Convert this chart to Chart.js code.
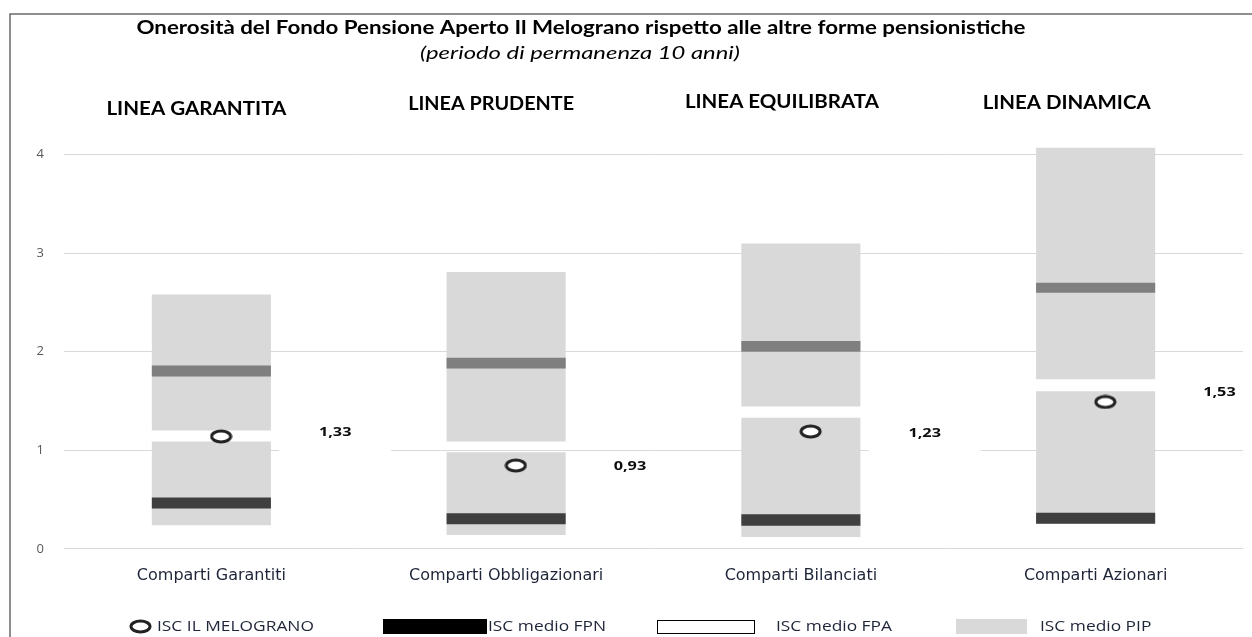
<!DOCTYPE html>
<html>
<head>
<meta charset="utf-8">
<script src="https://cdn.jsdelivr.net/npm/chart.js@4.4.1/dist/chart.umd.min.js"></script>
<style>
html,body{margin:0;padding:0;background:#fff;}
#wrap{width:1252px;height:637px;position:relative;}
</style>
</head>
<body>
<div id="wrap"><canvas id="c" width="1252" height="637"></canvas></div>
<script>
// ---------- DATA ----------
const chartTitle = 'Onerosità del Fondo Pensione Aperto Il Melograno rispetto alle altre forme pensionistiche';
const chartSubtitle = '(periodo di permanenza 10 anni)';
const categories = ['Comparti Garantiti', 'Comparti Obbligazionari', 'Comparti Bilanciati', 'Comparti Azionari'];
const lineHeaders = ['LINEA GARANTITA', 'LINEA PRUDENTE', 'LINEA EQUILIBRATA', 'LINEA DINAMICA'];
const pipLower = [[0.24, 1.09], [0.14, 0.98], [0.12, 1.33], [0.255, 1.60]];
const pipUpper = [[1.20, 2.58], [1.09, 2.81], [1.445, 3.10], [1.72, 4.07]];
const fpnBand  = [[0.41, 0.52], [0.25, 0.36], [0.235, 0.35], [0.255, 0.365]];
const midBand  = [[1.75, 1.86], [1.83, 1.94], [2.00, 2.11], [2.60, 2.70]];
const melograno = [1.14, 0.845, 1.19, 1.49];
const valueLabels = ['1,33', '0,93', '1,23', '1,53'];
const valueLabelY = [1.18, 0.835, 1.17, 1.59];
const yTicks = [0, 1, 2, 3, 4];
const legendLabels = ['ISC IL MELOGRANO', 'ISC medio FPN', 'ISC medio FPA', 'ISC medio PIP'];

// ---------- STYLE ----------
const GREY = '#d9d9d9', DARK = '#3f3f3f', MID = '#7f7f7f';
const TEXT = '#1e2538';
const FONT = '"Open Sans", "Noto Sans", sans-serif';
const HFONT = 'Lato, "Open Sans", sans-serif';

function ellipseImg(w, h) {
  const c = document.createElement('canvas');
  c.width = w; c.height = h;
  const x = c.getContext('2d');
  x.beginPath();
  x.ellipse(w / 2, h / 2, w / 2 - 2, h / 2 - 2, 0, 0, Math.PI * 2);
  x.fillStyle = '#fff'; x.fill();
  x.lineWidth = 3; x.strokeStyle = '#222'; x.stroke();
  return c;
}
const marker = ellipseImg(23, 15);

// draw text horizontally fitted to a target width (centered)
function fitText(ctx, text, cx, cy, w) {
  const m = ctx.measureText(text).width;
  ctx.save(); ctx.translate(cx, cy); ctx.scale(w / m, 1);
  ctx.textAlign = 'center'; ctx.fillText(text, 0, 0); ctx.restore();
}
// draw text horizontally stretched by a factor, left-aligned or centered
function stretchText(ctx, text, x, y, sx, align) {
  ctx.save(); ctx.translate(x, y); ctx.scale(sx, 1);
  ctx.textAlign = align; ctx.fillText(text, 0, 0); ctx.restore();
}

const decor = {
  id: 'decor',
  beforeDatasetsDraw(chart) {
    const ctx = chart.ctx, xl = chart.scales.xl, y = chart.scales.y;
    ctx.save();
    ctx.fillStyle = '#fff';
    valueLabels.forEach((t, i) => {
      const cx = xl.getPixelForValue(i + 0.42), cy = y.getPixelForValue(valueLabelY[i]);
      ctx.fillRect(cx - 56, cy - 12, 112, 34);
    });
    ctx.restore();
  },
  afterDraw(chart) {
    const ctx = chart.ctx, x = chart.scales.x, xl = chart.scales.xl, y = chart.scales.y;
    ctx.save();
    // frame
    ctx.strokeStyle = '#6b6b6b'; ctx.lineWidth = 1.5;
    ctx.beginPath(); ctx.moveTo(10, 637); ctx.lineTo(10, 14); ctx.lineTo(1252, 14); ctx.stroke();
    // title
    ctx.fillStyle = '#000'; ctx.textBaseline = 'middle';
    ctx.font = 'bold 18px ' + HFONT;
    fitText(ctx, chartTitle, 581, 28, 889);
    ctx.font = 'italic 18px ' + HFONT;
    fitText(ctx, chartSubtitle, 580, 53, 320);
    // line headers
    const hShift = [-15, -15, -19, -29], hY = [109, 104, 102, 103], hW = [180, 166, 194, 168];
    ctx.font = 'bold 18px ' + HFONT;
    lineHeaders.forEach((t, i) => fitText(ctx, t, x.getPixelForValue(i) + hShift[i], hY[i], hW[i]));
    // value labels
    ctx.fillStyle = '#0d0d0d';
    ctx.font = 'bold 13px ' + FONT;
    valueLabels.forEach((t, i) => stretchText(ctx, t, xl.getPixelForValue(i + 0.42), y.getPixelForValue(valueLabelY[i]), 1.25, 'center'));
    // legend
    const ly = 627;
    ctx.fillStyle = TEXT; ctx.font = '14px ' + FONT;
    ctx.drawImage(marker, 129, ly - 8);
    stretchText(ctx, legendLabels[0], 157, ly, 1.24, 'left');
    ctx.fillStyle = '#000'; ctx.fillRect(383, 619, 104, 15);
    ctx.fillStyle = TEXT; stretchText(ctx, legendLabels[1], 488, ly, 1.24, 'left');
    ctx.strokeStyle = '#000'; ctx.lineWidth = 1; ctx.strokeRect(657.5, 620.5, 97, 13);
    stretchText(ctx, legendLabels[2], 776, ly, 1.24, 'left');
    ctx.fillStyle = GREY; ctx.fillRect(956, 619, 71, 15);
    ctx.fillStyle = TEXT; stretchText(ctx, legendLabels[3], 1040, ly, 1.24, 'left');
    ctx.restore();
  }
};

const barCommon = { grouped: false, barPercentage: 0.404, categoryPercentage: 1.0, borderWidth: 0 };

new Chart(document.getElementById('c'), {
  type: 'bar',
  data: {
    labels: categories,
    datasets: [
      { type: 'scatter', label: legendLabels[0], xAxisID: 'xl', order: 0,
        data: melograno.map((v, i) => ({ x: i + 0.033, y: v })),
        pointStyle: marker, pointRadius: 8, showLine: false },
      Object.assign({ label: legendLabels[1], data: fpnBand, backgroundColor: DARK, order: 1 }, barCommon),
      Object.assign({ label: 'media', data: midBand, backgroundColor: MID, order: 1 }, barCommon),
      Object.assign({ label: legendLabels[3], data: pipLower, backgroundColor: GREY, order: 2 }, barCommon),
      Object.assign({ label: legendLabels[3] + ' ', data: pipUpper, backgroundColor: GREY, order: 2 }, barCommon)
    ]
  },
  options: {
    responsive: false,
    animation: false,
    layout: { padding: { left: 10, top: 135, right: 0, bottom: 35 } },
    plugins: { legend: { display: false }, tooltip: { enabled: false }, title: { display: false } },
    scales: {
      x: {
        type: 'category', offset: true,
        grid: { display: false, drawTicks: false }, border: { display: false },
        ticks: { color: TEXT, font: { family: '"DejaVu Sans", sans-serif', size: 16 }, padding: 17, maxRotation: 0 }
      },
      xl: { type: 'linear', min: -0.5, max: 3.5, offset: false, display: false },
      y: {
        min: 0, max: 4.2,
        afterBuildTicks: (axis) => { axis.ticks = yTicks.map(v => ({ value: v })); },
        afterFit: (axis) => { axis.width = 54; },
        grid: { color: '#d9d9d9', lineWidth: 1, drawTicks: false }, border: { display: false },
        ticks: { color: '#595959', font: { family: FONT, size: 13 }, padding: 20 }
      }
    }
  },
  plugins: [decor]
});
</script>
</body>
</html>
